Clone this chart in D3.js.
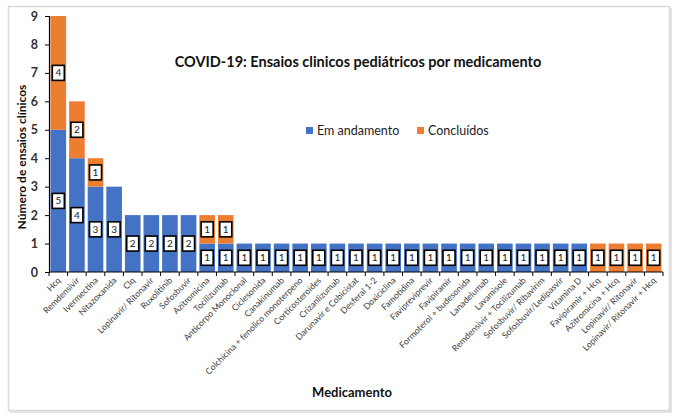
<!DOCTYPE html>
<html><head><meta charset="utf-8">
<script src="https://cdn.jsdelivr.net/npm/d3@7"></script>
<style>body{margin:0;background:#fff;font-family:Lato,sans-serif;}</style>
</head><body><svg id="c" width="678" height="417"></svg>
<script>
const categories = ["Hcq","Remdensivir","Ivermectina","Nitazoxanida","Clq","Lopinavir/ Ritonavir","Ruxolitinib","Sofosbuvir","Azitromicina","Tocilizumab","Anticorpo Monoclonal","Ciclesonida","Canakinumab","Colchicina + fenolico monoterpeno","Corticosteroides","Crizanlizumab","Darunavir e Cobicistat","Desferal 1-2","Doxiciclina","Famotidina","Favipreviprevir","Favipiramir","Formoterol + budesonida","Lanadelumab","Lavamisole","Remdensivir + Tocilizumab","Sofosbuvir/ Ribavirim","Sofosbuvir/Ledipasvir","Vitamina D","Favipiramir + Hcq","Azitromicina + Hcq","Lopinavir/ Ritonavir","Lopinavir/ Ritonavir + Hcq"];
const emAndamento = [5,4,3,3,2,2,2,2,1,1,1,1,1,1,1,1,1,1,1,1,1,1,1,1,1,1,1,1,1,0,0,0,0];
const concluidos  = [4,2,1,0,0,0,0,0,1,1,0,0,0,0,0,0,0,0,0,0,0,0,0,0,0,0,0,0,0,1,1,1,1];
const seriesNames = ["Em andamento","Concluídos"];
const yTicks = [0,1,2,3,4,5,6,7,8,9];
const colors = ["#4472C4","#ED7D31"];

const svg = d3.select("#c");
svg.append("rect").attr("x",10).attr("y",8).attr("width",662).attr("height",405).attr("fill","#e4e4e4");
svg.append("rect").attr("x",8.5).attr("y",6.5).attr("width",661).attr("height",404)
  .attr("fill","#fff").attr("stroke","#d9d9d9").attr("stroke-width",1.5);

const m = {l:49, r:663, t:16, b:272};
const idx = d3.range(categories.length);
const x = d3.scaleBand().domain(idx).range([m.l, m.r]).paddingInner(0.16).paddingOuter(0.08);
const y = d3.scaleLinear().domain([0,9]).range([m.b, m.t]);

const data = categories.map((c,i)=>({i, c, a:emAndamento[i], b:concluidos[i]}));
const stack = d3.stack().keys(["a","b"])(data);

const g = svg.append("g");
stack.forEach((s,si)=>{
  g.selectAll(null).data(s).enter().append("rect")
   .attr("x",d=>x(d.data.i)).attr("width",x.bandwidth())
   .attr("y",d=>y(d[1])).attr("height",d=>y(d[0])-y(d[1]))
   .attr("fill",colors[si]);
});
stack.forEach((s,si)=>{
  const lab = g.selectAll(null).data(s.filter(d=>d[1]-d[0]>0)).enter().append("g")
    .attr("transform",d=>`translate(${x(d.data.i)+x.bandwidth()/2},${y((d[0]+d[1])/2)})`);
  lab.append("rect").attr("x",-6).attr("y",-7.5).attr("width",12).attr("height",15)
    .attr("fill","#fff").attr("stroke","#000").attr("stroke-width",1.6);
  lab.append("text").attr("text-anchor","middle").attr("dy","0.35em")
    .attr("font-size",10).attr("fill","#222").text(d=>d[1]-d[0]);
});

const ya = svg.append("g").attr("transform",`translate(${m.l},0)`)
  .call(d3.axisLeft(y).tickValues(yTicks).tickSize(4).tickPadding(7).tickFormat(d3.format("d")));
ya.select(".domain").attr("stroke","#000").attr("stroke-width",1.2);
ya.selectAll(".tick line").attr("stroke","#000");
ya.selectAll("text").attr("font-size",12.5).attr("font-weight","bold").attr("fill","#333")
  .attr("font-family","Lato,sans-serif");

const xa = svg.append("g").attr("transform",`translate(0,${m.b})`);
xa.append("line").attr("x1",m.l).attr("x2",m.r).attr("stroke","#000").attr("stroke-width",1.2);
const bounds = d3.range(categories.length+1).map(i=>m.l + (m.r-m.l)*i/categories.length);
xa.selectAll(null).data(bounds).enter().append("line")
  .attr("x1",d=>d).attr("x2",d=>d).attr("y1",0).attr("y2",4).attr("stroke","#000");
xa.selectAll(null).data(data).enter().append("text")
  .attr("transform",d=>`translate(${x(d.i)+x.bandwidth()/2+3},9) rotate(-45)`)
  .attr("text-anchor","end").attr("font-size",8.7).attr("fill","#404040").text(d=>d.c);

svg.append("text").attr("x",358).attr("y",67).attr("text-anchor","middle")
  .attr("font-size",14.5).attr("font-weight","bold").attr("fill","#111")
  .text("COVID-19: Ensaios clinicos pediátricos por medicamento");
svg.append("text").attr("transform","translate(26,157) rotate(-90)").attr("text-anchor","middle")
  .attr("font-size",12).attr("font-weight","bold").attr("fill","#111").text("Número de ensaios clínicos");
svg.append("text").attr("x",352).attr("y",397).attr("text-anchor","middle")
  .attr("font-size",13).attr("font-weight","bold").attr("fill","#111").text("Medicamento");

const leg = svg.append("g");
const legX = [306, 417];
seriesNames.forEach((n,i)=>{
  leg.append("rect").attr("x",legX[i]).attr("y",127).attr("width",7).attr("height",7).attr("fill",colors[i]);
  leg.append("text").attr("x",legX[i]+11).attr("y",134.5).attr("font-size",12.5).attr("fill","#222").text(n);
});
</script></body></html>
